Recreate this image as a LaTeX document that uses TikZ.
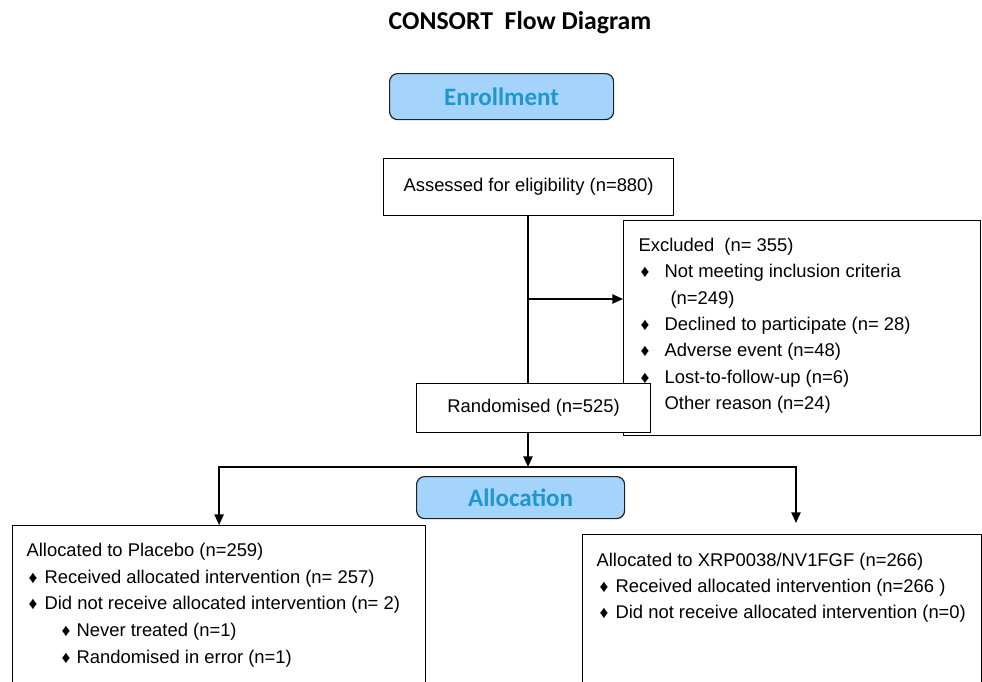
\documentclass[tikz,border=0pt]{standalone}
\usepackage{fontspec}
\setmainfont{Liberation Sans}
\newfontfamily\headfont{Carlito}
\usetikzlibrary{positioning,arrows.meta,calc}
\definecolor{phasefill}{HTML}{A4D4FC}
\definecolor{phasetext}{HTML}{1F97CE}
\definecolor{phaseline}{HTML}{222222}

\tikzset{
  stagebox/.style={draw=black,line width=0.9pt,fill=white,inner sep=0pt,
    anchor=north west,font=\fontsize{13.8}{19.75}\selectfont},
  phase/.style={draw=phaseline,line width=0.9pt,fill=phasefill,rounded corners=6pt,
    anchor=north west,font=\headfont\fontsize{18.8}{20}\selectfont\bfseries,text=phasetext},
  flow/.style={line width=1pt,-{Triangle[length=8pt,width=7pt]}},
  link/.style={line width=1pt},
}
\newcommand{\dm}[2]{\hspace*{#1}\makebox[#2][l]{\fontsize{13}{10}\selectfont ♦}}

\begin{document}
\begin{tikzpicture}[x=0.75pt,y=-0.75pt]
\useasboundingbox (0,0) rectangle (982,682);
\clip (0,0) rectangle (982,682);

\node[font=\headfont\fontsize{19.3}{20}\selectfont\bfseries] (title) at (520,23) {CONSORT\ \ Flow Diagram};

% enrollment
\node[phase,minimum width=168pt,minimum height=34.5pt] (enrol) at (389,73) {Enrollment};
\node[stagebox,minimum width=217.5pt,minimum height=42.75pt] (assess) at (383,158) {Assessed for eligibility (n=880)};
\node[stagebox] (excl) at (623,220) {\begin{minipage}[t][161.25pt][t]{267.75pt}
\leftskip=11.25pt\fontsize{13.8}{19.75}\selectfont\rule{0pt}{23.25pt}Excluded\ \ (n= 355)\\
\dm{1.5pt}{18pt}Not meeting inclusion criteria\\
\hspace*{24pt}(n=249)\\
\dm{1.5pt}{18pt}Declined to participate (n= 28)\\
\dm{1.5pt}{18pt}Adverse event (n=48)\\
\dm{1.5pt}{18pt}Lost-to-follow-up (n=6)\\
\dm{1.5pt}{18pt}Other reason (n=24)
\end{minipage}};
\node[stagebox,minimum width=175.5pt,minimum height=36.75pt] (rand) at (416,383) {Randomised (n=525)};

% allocation
\node[phase,minimum width=156pt,minimum height=31.5pt] (alloc) at (416,476) {Allocation};
\node[stagebox] (placebo) at (12,525) {\begin{minipage}[t][131.25pt][t]{309.75pt}
\leftskip=10.5pt\fontsize{13.8}{20}\selectfont\rule{0pt}{23.25pt}Allocated to Placebo (n=259)\\
\dm{1.5pt}{12pt}Received allocated intervention (n= 257)\\
\dm{1.5pt}{12pt}Did not receive allocated intervention (n= 2)\\
\dm{26.25pt}{11.25pt}Never treated (n=1)\\
\dm{26.25pt}{11.25pt}Randomised in error (n=1)
\end{minipage}};
\node[stagebox] (drug) at (582,534) {\begin{minipage}[t][124.5pt][t]{299.25pt}
\leftskip=10.5pt\fontsize{13.8}{19.5}\selectfont\rule{0pt}{24pt}Allocated to XRP0038/NV1FGF (n=266)\\
\dm{2.25pt}{12pt}Received allocated intervention (n=266 )\\
\dm{2.25pt}{12pt}Did not receive allocated intervention (n=0)
\end{minipage}};

% connectors
\coordinate (split) at (528,299);
\coordinate (junc) at (528,467);
\coordinate (rtip) at (796,523);
\draw[link] (assess.south -| split) -- (rand.north -| split);
\draw[flow] (split) -- (excl.west |- split);
\draw[flow] (rand.south -| split) -- (junc);
\draw[flow] (junc) -| (placebo.north);
\draw[flow] (junc) -| (rtip);
\end{tikzpicture}
\end{document}
